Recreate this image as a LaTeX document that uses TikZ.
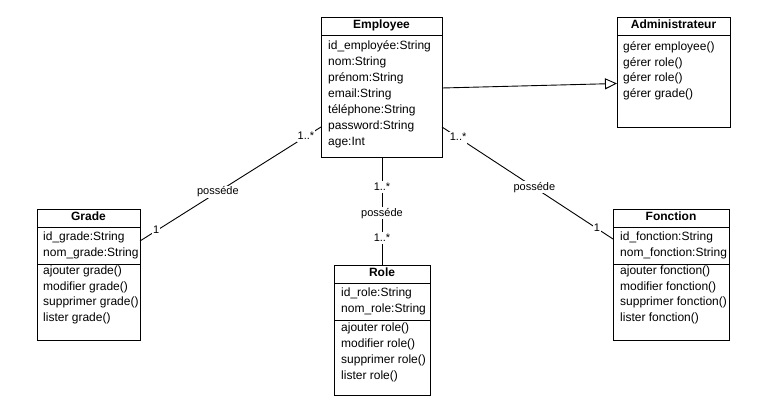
\documentclass[tikz,border=0pt]{standalone}
\usepackage{fontspec}
\setmainfont{Liberation Sans}
\usetikzlibrary{arrows.meta}
\begin{document}
\begin{tikzpicture}[x=1pt,y=-1pt,
  classbox/.style={draw=black,line width=1pt,fill=white,inner sep=0pt,outer sep=0pt,anchor=north west},
  ctitle/.style={font=\fontsize{12}{14}\selectfont\bfseries,inner sep=0pt,text height=8pt,text depth=4pt},
  member/.style={font=\fontsize{12}{14}\selectfont,anchor=west,inner sep=0pt,text height=8pt,text depth=4pt},
  conn/.style={line width=0.9pt,draw=black},
  lbl/.style={font=\fontsize{11}{13}\selectfont,fill=white,inner sep=1pt,text height=8pt,text depth=2pt},
  sep/.style={line width=1pt,draw=black}]
\useasboundingbox (0,0) rectangle (767,417);

% boxes
\node[classbox,minimum width=121pt,minimum height=139pt] (emp) at (321,18) {};
\node[classbox,minimum width=113pt,minimum height=109pt] (adm) at (617,18) {};
\node[classbox,minimum width=103pt,minimum height=131pt] (grd) at (37,209) {};
\node[classbox,minimum width=96pt,minimum height=130pt] (rol) at (334,265) {};
\node[classbox,minimum width=116pt,minimum height=131pt] (fon) at (613,209) {};

% connectors
\draw[conn,-{Triangle[open,length=12pt,width=11pt]}] ([yshift=-0.5pt]emp.east) -- ([yshift=-11pt]adm.west);
\draw[conn] ([yshift=-39.5pt]emp.west) --
  node[lbl,pos=0.083] (l1a) {1..*}
  node[lbl,pos=0.57] (l1b) {posséde}
  node[lbl,pos=0.91] (l1c) {1}
  ([yshift=33.5pt]grd.east);
\draw[conn] ([yshift=-39.5pt]emp.east) --
  node[lbl,pos=0.094] (l2a) {1..*}
  node[lbl,pos=0.54] (l2b) {posséde}
  node[lbl,pos=0.906] (l2c) {1}
  ([yshift=35.5pt]fon.west);
\draw[conn] (rol.north |- emp.south) --
  node[lbl,pos=0.28] (l3a) {1..*}
  node[lbl,pos=0.52] (l3b) {posséde}
  node[lbl,pos=0.75] (l3c) {1..*}
  (rol.north);

% Employee
\draw[sep] (321,36) -- (442,36);
\node[ctitle] (empT) at (381.5,27) {Employee};
\node[member] (e1) at (328,48) {id\_employée:String};
\node[member] (e2) at (328,64) {nom:String};
\node[member] (e3) at (328,80) {prénom:String};
\node[member] (e4) at (328,96) {email:String};
\node[member] (e5) at (328,111.5) {téléphone:String};
\node[member] (e6) at (328,127) {password:String};
\node[member] (e7) at (328,143) {age:Int};

% Administrateur
\draw[sep] (617,36) -- (730,36);
\node[ctitle] (admT) at (673.5,27) {Administrateur};
\node[member] (a1) at (623,49) {gérer employee()};
\node[member] (a2) at (623,64.5) {gérer role()};
\node[member] (a3) at (623,80) {gérer role()};
\node[member] (a4) at (623,96) {gérer grade()};

% Grade
\draw[sep] (37,227) -- (140,227);
\draw[sep] (37,264) -- (140,264);
\node[ctitle] (grdT) at (88.5,218) {Grade};
\node[member] (g1) at (43,238.5) {id\_grade:String};
\node[member] (g2) at (43,254.5) {nom\_grade:String};
\node[member] (g3) at (43,272.5) {ajouter grade()};
\node[member] (g4) at (43,288) {modifier grade()};
\node[member] (g5) at (43,303.5) {supprimer grade()};
\node[member] (g6) at (43,319.5) {lister grade()};

% Role
\draw[sep] (334,283) -- (430,283);
\draw[sep] (334,320) -- (430,320);
\node[ctitle] (rolT) at (382,274) {Role};
\node[member] (r1) at (341,294.5) {id\_role:String};
\node[member] (r2) at (341,310.5) {nom\_role:String};
\node[member] (r3) at (341,329.5) {ajouter role()};
\node[member] (r4) at (341,345.5) {modifier role()};
\node[member] (r5) at (341,361.5) {supprimer role()};
\node[member] (r6) at (341,377) {lister role()};

% Fonction
\draw[sep] (613,227) -- (729,227);
\draw[sep] (613,264) -- (729,264);
\node[ctitle] (fonT) at (671,218) {Fonction};
\node[member] (f1) at (620,238.5) {id\_fonction:String};
\node[member] (f2) at (620,254.5) {nom\_fonction:String};
\node[member] (f3) at (620,272.5) {ajouter fonction()};
\node[member] (f4) at (620,288) {modifier fonction()};
\node[member] (f5) at (620,303.5) {supprimer fonction()};
\node[member] (f6) at (620,319.5) {lister fonction()};
\end{tikzpicture}
\end{document}
